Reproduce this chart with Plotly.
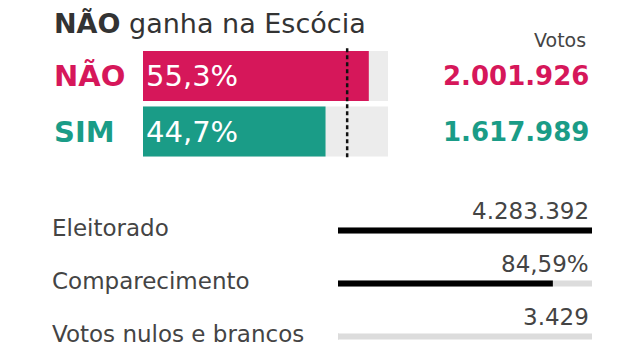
import plotly.graph_objects as go

# ---- data ----
title_bold = "NÃO"
title_rest = " ganha na Escócia"
options = ["NÃO", "SIM"]
option_pct = [55.3, 44.7]
option_votes = [2001926, 1617989]
option_colors = ["#d6175a", "#1a9c87"]
majority_pct = 50
top_scale_max = 60

stat_labels = ["Eleitorado", "Comparecimento", "Votos nulos e brancos"]
stat_texts = ["4.283.392", "84,59%", "3.429"]
electorate = 4283392
turnout_pct = 84.59
null_votes = 3429
stat_pct = [100, turnout_pct, null_votes / electorate * 100]
stat_colors = ["#000000", "#000000", "#dcdcdc"]

FONT = "DejaVu Sans"
W, H = 640, 360


def fmt_int(v):
    return f"{v:,}".replace(",", ".")


fig = go.Figure()

# top: background bars
fig.add_trace(go.Bar(
    y=options, x=[top_scale_max] * len(options), orientation="h",
    marker=dict(color="#ececec", line=dict(width=0)),
    xaxis="x", yaxis="y", hoverinfo="skip", showlegend=False,
))
# top: value bars
fig.add_trace(go.Bar(
    y=options, x=option_pct, orientation="h",
    marker=dict(color=option_colors, line=dict(width=0)),
    text=[f"{p:.1f}%".replace(".", ",") for p in option_pct],
    textposition="inside", insidetextanchor="start",
    textfont=dict(family=FONT, size=29, color="white"),
    constraintext="none",
    xaxis="x", yaxis="y", hoverinfo="skip", showlegend=False,
))

# bottom: background bars
fig.add_trace(go.Bar(
    y=stat_labels, x=[100] * len(stat_labels), orientation="h",
    marker=dict(color="#dcdcdc", line=dict(width=0)),
    xaxis="x2", yaxis="y2", hoverinfo="skip", showlegend=False,
))
fig.add_trace(go.Bar(
    y=stat_labels, x=stat_pct, orientation="h",
    marker=dict(color=stat_colors, line=dict(width=0)),
    xaxis="x2", yaxis="y2", hoverinfo="skip", showlegend=False,
))

# 50% dotted line
fig.add_shape(type="line", xref="x", yref="y", x0=majority_pct, x1=majority_pct,
              y0=-0.5, y1=1.5, line=dict(color="#111", width=2.5, dash="4px,3px"))

ann = []
ann.append(dict(xref="paper", yref="paper", x=52 / W, y=1 - 24 / H,
                xanchor="left", yanchor="middle", showarrow=False,
                text=f"<b>{title_bold}</b>{title_rest}",
                font=dict(family=FONT, size=27, color="#333333")))
ann.append(dict(xref="paper", yref="paper", x=588 / W, y=1 - 40 / H,
                xanchor="right", yanchor="middle", showarrow=False,
                text="Votos", font=dict(family=FONT, size=19, color="#444444")))
for o, v, c in zip(options, option_votes, option_colors):
    ann.append(dict(xref="paper", yref="y", x=52 / W, y=o,
                    xanchor="left", yanchor="middle", showarrow=False,
                    text=f"<b>{o}</b>", font=dict(family=FONT, size=29, color=c)))
    ann.append(dict(xref="paper", yref="y", x=591 / W, y=o,
                    xanchor="right", yanchor="middle", showarrow=False,
                    text=f"<b>{fmt_int(v)}</b>", font=dict(family=FONT, size=26, color=c)))
for l, t in zip(stat_labels, stat_texts):
    ann.append(dict(xref="paper", yref="y2", x=50 / W, y=l, yshift=3,
                    xanchor="left", yanchor="middle", showarrow=False,
                    text=l, font=dict(family=FONT, size=23, color="#444444")))
    ann.append(dict(xref="paper", yref="y2", x=591 / W, y=l, yshift=20,
                    xanchor="right", yanchor="middle", showarrow=False,
                    text=t, font=dict(family=FONT, size=23, color="#444444")))

ax_common = dict(showgrid=False, zeroline=False, showticklabels=False,
                 showline=False, ticks="", fixedrange=True)

top_pitch = 55.5
top_c0 = 76
bot_pitch = 53
bot_c0 = 230.5

fig.update_layout(
    width=W, height=H,
    margin=dict(l=0, r=0, t=0, b=0),
    paper_bgcolor="white", plot_bgcolor="rgba(0,0,0,0)",
    barmode="overlay", bargap=0.1,
    separators=",.",
    annotations=ann,
    xaxis=dict(domain=[143 / W, 388 / W], range=[0, top_scale_max], anchor="y", **ax_common),
    yaxis=dict(domain=[0.5, 1], type="category", categoryorder="array", categoryarray=options,
               range=[(180 - top_c0) / top_pitch, (0 - top_c0) / top_pitch],
               anchor="x", **ax_common),
    xaxis2=dict(domain=[338 / W, 592 / W], range=[0, 100], anchor="y2", **ax_common),
    yaxis2=dict(domain=[0, 0.5], type="category", categoryorder="array", categoryarray=stat_labels,
                range=[(360 - bot_c0) / bot_pitch, (180 - bot_c0) / bot_pitch],
                anchor="x2", **ax_common),
    font=dict(family=FONT),
)

fig.data[2].width = 6 / bot_pitch
fig.data[3].width = 6 / bot_pitch
fig.data[0].width = 50 / top_pitch
fig.data[1].width = 50 / top_pitch

fig.write_html("out.html", config={"displayModeBar": False},
               post_script="document.body.style.margin='0';document.body.style.overflow='hidden';")
